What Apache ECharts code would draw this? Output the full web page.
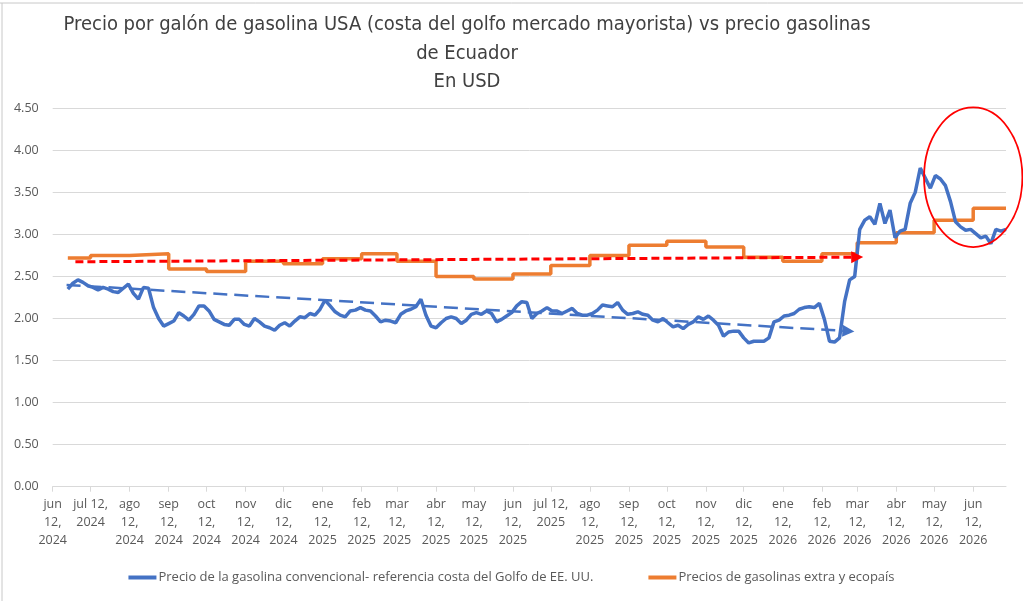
<!DOCTYPE html>
<html>
<head>
<meta charset="utf-8">
<script src="https://cdn.jsdelivr.net/npm/echarts@6/dist/echarts.min.js"></script>
<style>
html,body{margin:0;padding:0;background:#fff;}
#chart{width:1023px;height:601px;}
</style>
</head>
<body>
<div id="chart"></div>
<script>
// ---- Data ----
var titleText = 'Precio por galón de gasolina USA (costa del golfo mercado mayorista) vs precio gasolinas\nde Ecuador\nEn USD';
var seriesNames = ['Precio de la gasolina convencional- referencia costa del Golfo de EE. UU.', 'Precios de gasolinas extra y ecopaís'];

var tickDates = ['2024-06-12','2024-07-12','2024-08-12','2024-09-12','2024-10-12','2024-11-12','2024-12-12',
  '2025-01-12','2025-02-12','2025-03-12','2025-04-12','2025-05-12','2025-06-12','2025-07-12','2025-08-12',
  '2025-09-12','2025-10-12','2025-11-12','2025-12-12','2026-01-12','2026-02-12','2026-03-12','2026-04-12',
  '2026-05-12','2026-06-12'];
var tickLabels = ['jun\n12,\n2024','jul 12,\n2024','ago\n12,\n2024','sep\n12,\n2024','oct\n12,\n2024','nov\n12,\n2024','dic\n12,\n2024',
  'ene\n12,\n2025','feb\n12,\n2025','mar\n12,\n2025','abr\n12,\n2025','may\n12,\n2025','jun\n12,\n2025','jul 12,\n2025','ago\n12,\n2025',
  'sep\n12,\n2025','oct\n12,\n2025','nov\n12,\n2025','dic\n12,\n2025','ene\n12,\n2026','feb\n12,\n2026','mar\n12,\n2026','abr\n12,\n2026',
  'may\n12,\n2026','jun\n12,\n2026'];
var axisStart = '2024-06-12';
var axisEnd = '2026-07-08';

// US Gulf Coast conventional gasoline, sampled every 4 days from blueStart
var blueStart = '2024-06-24';
var blueStepDays = 4;
var usGulfValues = [
  2.35,2.42,2.46,2.43,2.39,2.37,2.34,2.37,2.35,2.32,
  2.31,2.36,2.41,2.30,2.23,2.37,2.36,2.13,2.00,1.91,
  1.94,1.97,2.07,2.03,1.98,2.05,2.15,2.15,2.09,1.99,
  1.96,1.93,1.92,1.99,1.99,1.93,1.91,2.00,1.96,1.91,
  1.89,1.86,1.92,1.95,1.91,1.97,2.02,2.01,2.06,2.04,
  2.11,2.22,2.15,2.08,2.04,2.02,2.09,2.10,2.13,2.10,
  2.09,2.03,1.96,1.98,1.97,1.95,2.05,2.09,2.11,2.14,
  2.23,2.04,1.91,1.89,1.95,2.00,2.02,2.00,1.94,1.98,
  2.05,2.07,2.05,2.09,2.06,1.96,1.99,2.03,2.07,2.15,
  2.20,2.19,2.00,2.06,2.09,2.13,2.09,2.09,2.06,2.09,
  2.12,2.06,2.04,2.04,2.06,2.10,2.16,2.15,2.14,2.19,
  2.10,2.05,2.06,2.08,2.05,2.04,1.98,1.96,2.00,1.95,
  1.90,1.92,1.88,1.93,1.96,2.02,1.99,2.03,1.98,1.92,
  1.79,1.84,1.85,1.85,1.77,1.71,1.73,1.73,1.73,1.77,
  1.96,1.98,2.03,2.04,2.06,2.11,2.13,2.14,2.13,2.18,
  1.99,1.73,1.72,1.77,2.20,2.46,2.50,3.06,3.17,3.21,
  3.12,3.37,3.13,3.29,2.96,3.04,3.06,3.37,3.50,3.79,
  3.67,3.55,3.70,3.66,3.58,3.39,3.15,3.09,3.05,3.06,
  3.01,2.96,2.98,2.89,3.06,3.04,3.06
];

// Ecuador extra / ecopaís price bands: [date of change, price]
var ecuadorDates = ['2024-06-24','2024-07-12','2024-08-12','2024-09-12','2024-10-12','2024-11-12','2024-12-12',
  '2025-01-12','2025-02-12','2025-03-12','2025-04-12','2025-05-12','2025-06-12','2025-07-12','2025-08-12',
  '2025-09-12','2025-10-12','2025-11-12','2025-12-12','2026-01-12','2026-02-12','2026-03-12','2026-04-12',
  '2026-05-12','2026-06-12','2026-07-08'];
var ecuadorValues = [2.72,2.75,2.77,2.59,2.56,2.68,2.65,
  2.71,2.77,2.68,2.50,2.47,2.53,2.63,2.75,
  2.87,2.92,2.85,2.73,2.68,2.77,2.90,3.02,
  3.17,3.31,3.31];

// Annotations (data coordinates)
var redTrend = [['2024-06-30', 2.675], ['2026-03-12', 2.73]];
var blueTrend = [['2024-06-23', 2.40], ['2026-03-05', 1.85]];
var circleCenter = ['2026-06-12', 3.68];
var circleHalfDays = 39;
var circleHalfValue = 0.83;

// ---- Build ----
function parseDate(s){ var p = s.split('-'); return Date.UTC(+p[0], +p[1]-1, +p[2]); }
var DAY = 86400000;
var t0 = parseDate(blueStart);
var blueData = usGulfValues.map(function(v, i){ return [t0 + i*blueStepDays*DAY, v]; });
var orangeData = ecuadorDates.map(function(d, i){ return [parseDate(d), ecuadorValues[i]]; });
var tickTs = tickDates.map(parseDate);
var labelMap = {};
tickTs.forEach(function(t, i){ labelMap[t] = tickLabels[i]; });

var chart = echarts.init(document.getElementById('chart'), null, {renderer: 'canvas'});
var labelColor = '#595959';
var gridColor = '#d9d9d9';

chart.setOption({
  animation: false,
  backgroundColor: '#ffffff',
  title: {
    text: titleText,
    left: 462,
    top: 6,
    textAlign: 'center',
    textStyle: {
      fontFamily: 'Liberation Sans Narrow, DejaVu Sans Condensed, sans-serif',
      fontSize: 20,
      fontWeight: 'normal',
      color: '#404040',
      lineHeight: 28.5
    }
  },
  legend: {
    top: 566,
    left: 'center',
    itemGap: 55,
    itemWidth: 28,
    itemHeight: 4,
    icon: 'rect',
    textStyle: { color: labelColor, fontSize: 13, fontFamily: 'Open Sans, sans-serif', padding: [0, 0, 0, -3] },
    data: seriesNames
  },
  grid: { left: 52.7, right: 17, top: 108.3, bottom: 114.3, containLabel: false },
  xAxis: {
    type: 'value',
    min: parseDate(axisStart),
    max: parseDate(axisEnd),
    axisLine: { show: true, onZero: false, lineStyle: { color: gridColor, width: 1 } },
    axisTick: { show: true, customValues: tickTs, length: 5, lineStyle: { color: gridColor } },
    axisLabel: {
      customValues: tickTs,
      color: labelColor,
      fontSize: 12.5,
      fontFamily: 'Open Sans, sans-serif',
      lineHeight: 18,
      margin: 9,
      align: 'center',
      hideOverlap: false,
      showMinLabel: true,
      showMaxLabel: true,
      formatter: function(v){ return labelMap[v] !== undefined ? labelMap[v] : ''; }
    },
    splitLine: { show: false }
  },
  yAxis: {
    type: 'value',
    min: 0, max: 4.5, interval: 0.5,
    axisLine: { show: false },
    axisTick: { show: false },
    axisLabel: {
      color: labelColor, fontSize: 12.5, fontFamily: 'Open Sans, sans-serif', margin: 14,
      formatter: function(v){ return v.toFixed(2); }
    },
    splitLine: { lineStyle: { color: gridColor, width: 1 } }
  },
  series: [
    {
      name: seriesNames[0],
      type: 'line',
      data: blueData,
      showSymbol: false,
      symbol: 'none',
      lineStyle: { color: '#4472C4', width: 3.5 },
      itemStyle: { color: '#4472C4' },
      z: 3,
      markLine: {
        silent: true,
        symbol: ['none', 'triangle'],
        symbolSize: [12, 12],
        label: { show: false },
        lineStyle: { color: '#4472C4', type: [14, 7], width: 2.5 },
        data: [[
          { coord: [parseDate(blueTrend[0][0]), blueTrend[0][1]] },
          { coord: [parseDate(blueTrend[1][0]), blueTrend[1][1]] }
        ]]
      }
    },
    {
      name: seriesNames[1],
      type: 'line',
      step: 'end',
      data: orangeData,
      showSymbol: false,
      symbol: 'none',
      lineStyle: { color: '#ED7D31', width: 3.5 },
      itemStyle: { color: '#ED7D31' },
      z: 2,
      markLine: {
        silent: true,
        symbol: ['none', 'triangle'],
        symbolSize: [12, 12],
        label: { show: false },
        lineStyle: { color: '#FF0000', type: [8, 4], width: 3 },
        z: 4,
        data: [[
          { coord: [parseDate(redTrend[0][0]), redTrend[0][1]] },
          { coord: [parseDate(redTrend[1][0]), redTrend[1][1]] }
        ]]
      }
    }
  ]
});

// Ellipse annotation positioned from data coordinates
var cT = parseDate(circleCenter[0]);
var c = chart.convertToPixel({gridIndex: 0}, [cT, circleCenter[1]]);
var cx2 = chart.convertToPixel({gridIndex: 0}, [cT + circleHalfDays*DAY, circleCenter[1]]);
var cy2 = chart.convertToPixel({gridIndex: 0}, [cT, circleCenter[1] + circleHalfValue]);
chart.setOption({
  graphic: [
    { type: 'ellipse', shape: { cx: c[0], cy: c[1], rx: Math.abs(cx2[0]-c[0]), ry: Math.abs(c[1]-cy2[1]) },
      style: { fill: 'none', stroke: '#FF0000', lineWidth: 1.8 }, z: 10, silent: true },
    { type: 'line', shape: { x1: 0, y1: 3, x2: 1023, y2: 3 }, style: { stroke: '#c8c8c8', lineWidth: 1 }, silent: true },
    { type: 'line', shape: { x1: 2, y1: 3, x2: 2, y2: 601 }, style: { stroke: '#c8c8c8', lineWidth: 1 }, silent: true }
  ]
});
</script>
</body>
</html>
